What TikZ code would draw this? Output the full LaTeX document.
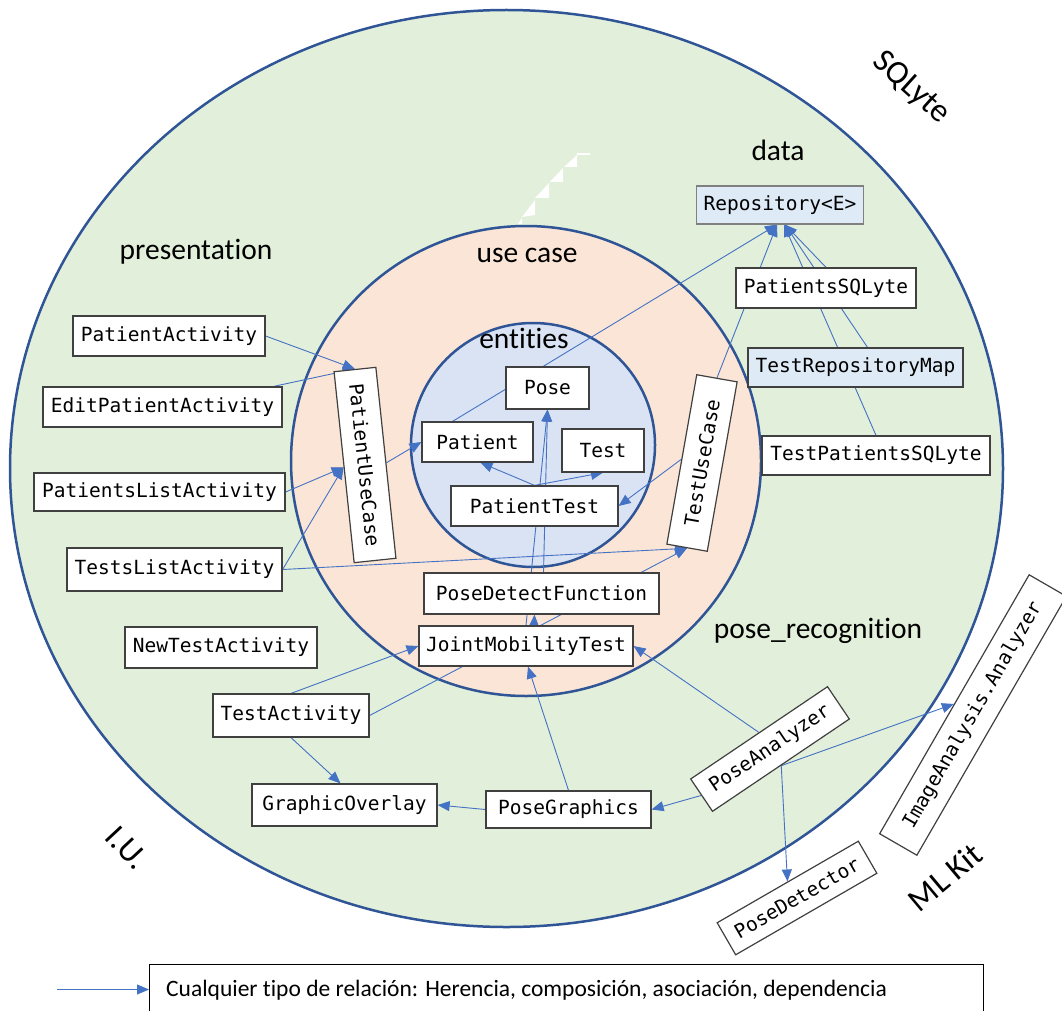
\documentclass[tikz,border=0pt]{standalone}
\usepackage{fontspec}
\setmainfont{Carlito}[Ligatures=NoCommon]
\newfontfamily\codefont{DejaVu Sans Mono}
\usetikzlibrary{arrows.meta}
\pgfdeclarelayer{back}
\pgfdeclarelayer{mid}
\pgfsetlayers{back,mid,main}
\definecolor{outerfill}{HTML}{E2EFDA}
\definecolor{midfill}{HTML}{FBE5D6}
\definecolor{innerfill}{HTML}{DAE3F3}
\definecolor{ringblue}{HTML}{2F5597}
\definecolor{linkblue}{HTML}{4472C4}
\definecolor{boxline}{HTML}{404040}
\definecolor{repofill}{HTML}{DEEBF7}
\begin{document}
\begin{tikzpicture}[x=1pt,y=-1pt,
  cls/.style={draw=boxline, line width=1.2pt, fill=white, font=\codefont\fontsize{19.5}{23}\selectfont, inner sep=0pt},
  rel/.style={draw=linkblue, line width=0.9pt, -{Triangle[length=12pt,width=10pt]}},
  lbl/.style={font=\fontsize{29.5}{34}\selectfont, text=black, inner sep=0pt},
  outlbl/.style={font=\fontsize{33}{38}\selectfont, text=black, inner sep=0pt},
  ring/.style={draw=ringblue, line width=2.5pt}
]
\useasboundingbox (0,0) rectangle (1062,1011);
\clip (0,0) rectangle (1062,1011);

% boxes
\node[cls, minimum width=167pt, minimum height=38pt, fill=repofill, draw=gray] (repo) at (780,205) {Repository<E>};
\node[cls, minimum width=180pt, minimum height=40pt] (psql) at (826,288) {PatientsSQLyte};
\node[cls, minimum width=215pt, minimum height=39pt, fill=repofill] (trm) at (855.5,367.5) {TestRepositoryMap};
\node[cls, minimum width=228pt, minimum height=39pt] (tps) at (876,455.5) {TestPatientsSQLyte};
\node[cls, minimum width=192pt, minimum height=40pt] (pact) at (169,336) {PatientActivity};
\node[cls, minimum width=239pt, minimum height=40pt] (epact) at (162.5,407) {EditPatientActivity};
\node[cls, minimum width=251pt, minimum height=38pt] (plact) at (159.5,492) {PatientsListActivity};
\node[cls, minimum width=215pt, minimum height=43pt] (tlact) at (174.5,569.5) {TestsListActivity};
\node[cls, minimum width=192pt, minimum height=42pt, rotate=-84] (puc) at (365,465) {PatientUseCase};
\node[cls, minimum width=111pt, minimum height=40pt] (patient) at (477.5,442) {Patient};
\node[cls, minimum width=83pt, minimum height=42pt] (pose) at (547.5,388) {Pose};
\node[cls, minimum width=82pt, minimum height=43pt] (test) at (603,450.5) {Test};
\node[cls, minimum width=167pt, minimum height=40pt] (ptest) at (534.5,506) {PatientTest};
\node[cls, minimum width=172pt, minimum height=41pt, rotate=80] (tuc) at (702,463) {TestUseCase};
\node[cls, minimum width=235pt, minimum height=41pt] (pdf) at (541.5,593.5) {PoseDetectFunction};
\node[cls, minimum width=214pt, minimum height=40pt] (jmt) at (526,646) {JointMobilityTest};
\node[cls, minimum width=192pt, minimum height=41pt] (ntact) at (221,647.5) {NewTestActivity};
\node[cls, minimum width=156pt, minimum height=43pt] (tact) at (291,715.5) {TestActivity};
\node[cls, minimum width=185pt, minimum height=42pt] (govl) at (344.5,805) {GraphicOverlay};
\node[cls, minimum width=165pt, minimum height=37pt] (pgr) at (568.5,809.5) {PoseGraphics};
\node[cls, minimum width=165pt, minimum height=39pt, rotate=34] (pan) at (770,749) {PoseAnalyzer};
\node[cls, minimum width=299pt, minimum height=43pt, rotate=60] (iaa) at (973,715) {ImageAnalysis.Analyzer};
\node[cls, minimum width=163pt, minimum height=37pt, rotate=30] (pdet) at (797,898) {PoseDetector};

% ring labels
\node[lbl, anchor=base] (ldata) at (778,161) {data};
\node[lbl, anchor=base] (lpres) at (196,259) {presentation};
\node[lbl, anchor=base] (luse) at (527,262) {use case};
\node[lbl, anchor=base] (lent) at (524,348) {entities};
\node[lbl, anchor=base] (lpose) at (818,638) {pose\_recognition};
\node[outlbl, rotate=-42] (lsql) at (911,88) {SQLyte};
\node[outlbl, rotate=-47] (liu) at (127,848) {I.U.};
\node[outlbl, rotate=40] (lml) at (945,877) {ML Kit};

% legend
\node[draw=black, line width=0.8pt, minimum width=834pt, minimum height=60pt, anchor=north west, inner sep=0pt] (legend) at (149,964) {};
\node[anchor=base west, font=\fontsize{23.5}{27}\selectfont, inner sep=0pt] (legtext) at (166,996) {Cualquier tipo de relación: Herencia, composición, asociación, dependencia};
\coordinate (legstart) at (57,989.5);

\begin{pgfonlayer}{back}
\fill[outerfill] (506.5,468.5) ellipse [x radius=496.5pt, y radius=458.5pt];
\draw[ring] (506.5,468.5) ellipse [x radius=496.5pt, y radius=458.5pt];
\fill[white] (577,155) -- (577,167) -- (564,167) -- cycle;
\fill[white] (563,168) -- (563,182) -- (550,182) -- cycle;
\fill[white] (549,183) -- (549,198) -- (535,198) -- cycle;
\fill[white] (535,200) -- (535,215) -- (522,217) -- cycle;
\fill[white] (522,218) -- (522,224) -- (518,224) -- cycle;
\draw[white, line width=1.5pt] (577,154) -- (590,154);
\filldraw[fill=midfill, ring] (526,461) circle [radius=235pt];
\filldraw[fill=innerfill, ring] (533,445) circle [radius=122pt];
\end{pgfonlayer}

\begin{pgfonlayer}{mid}
\draw[rel] (pact.east) -- (puc.west);
\draw[rel] ([xshift=-9pt]epact.north east) -- (puc.west);
\draw[rel] (plact.east) -- (puc.south);
\draw[rel] (tlact.east) -- (puc.south);
\draw[rel] (tlact.east) -- (tuc.west);
\draw[rel] (puc.north) -- (patient.west);
\draw[rel] ([xshift=-25pt]patient.north) -- ([xshift=-3pt]repo.south);
\draw[rel] (tuc.east) -- ([xshift=-3pt]repo.south);
\draw[rel] (psql.north) -- ([xshift=5pt]repo.south);
\draw[rel] ([xshift=12pt]trm.north) -- ([xshift=5pt]repo.south);
\draw[rel] (tps.north) -- ([xshift=4pt]repo.south);
\draw[rel] (tuc.north) -- (ptest.east);
\draw[rel] (ptest.north) -- ([xshift=3pt]patient.south);
\draw[rel] (ptest.north) -- (test.south);
\draw[rel] ([xshift=2pt]pdf.north) -- (pose.south);
\draw[rel] (jmt.north) -- (pose.south);
\draw[rel] ([xshift=8pt]jmt.north) -- ([xshift=-7pt]pdf.south);
\draw[rel] (tact.north) -- (jmt.west);
\draw[rel] (tact.east) -- (tuc.west);
\draw[rel] (tact.south) -- ([xshift=-4pt]govl.north);
\draw[rel] (pgr.west) -- (govl.east);
\draw[rel] (pgr.north) -- ([xshift=2pt]jmt.south);
\draw[rel] (pan.west) -- (pgr.east);
\draw[rel] (pan.north) -- (jmt.east);
\draw[rel] (pan.south) -- (iaa.north);
\draw[rel] (pan.south) -- (pdet.north);
\draw[rel] (legstart) -- (legstart -| legend.west);
\end{pgfonlayer}
\end{tikzpicture}
\end{document}
